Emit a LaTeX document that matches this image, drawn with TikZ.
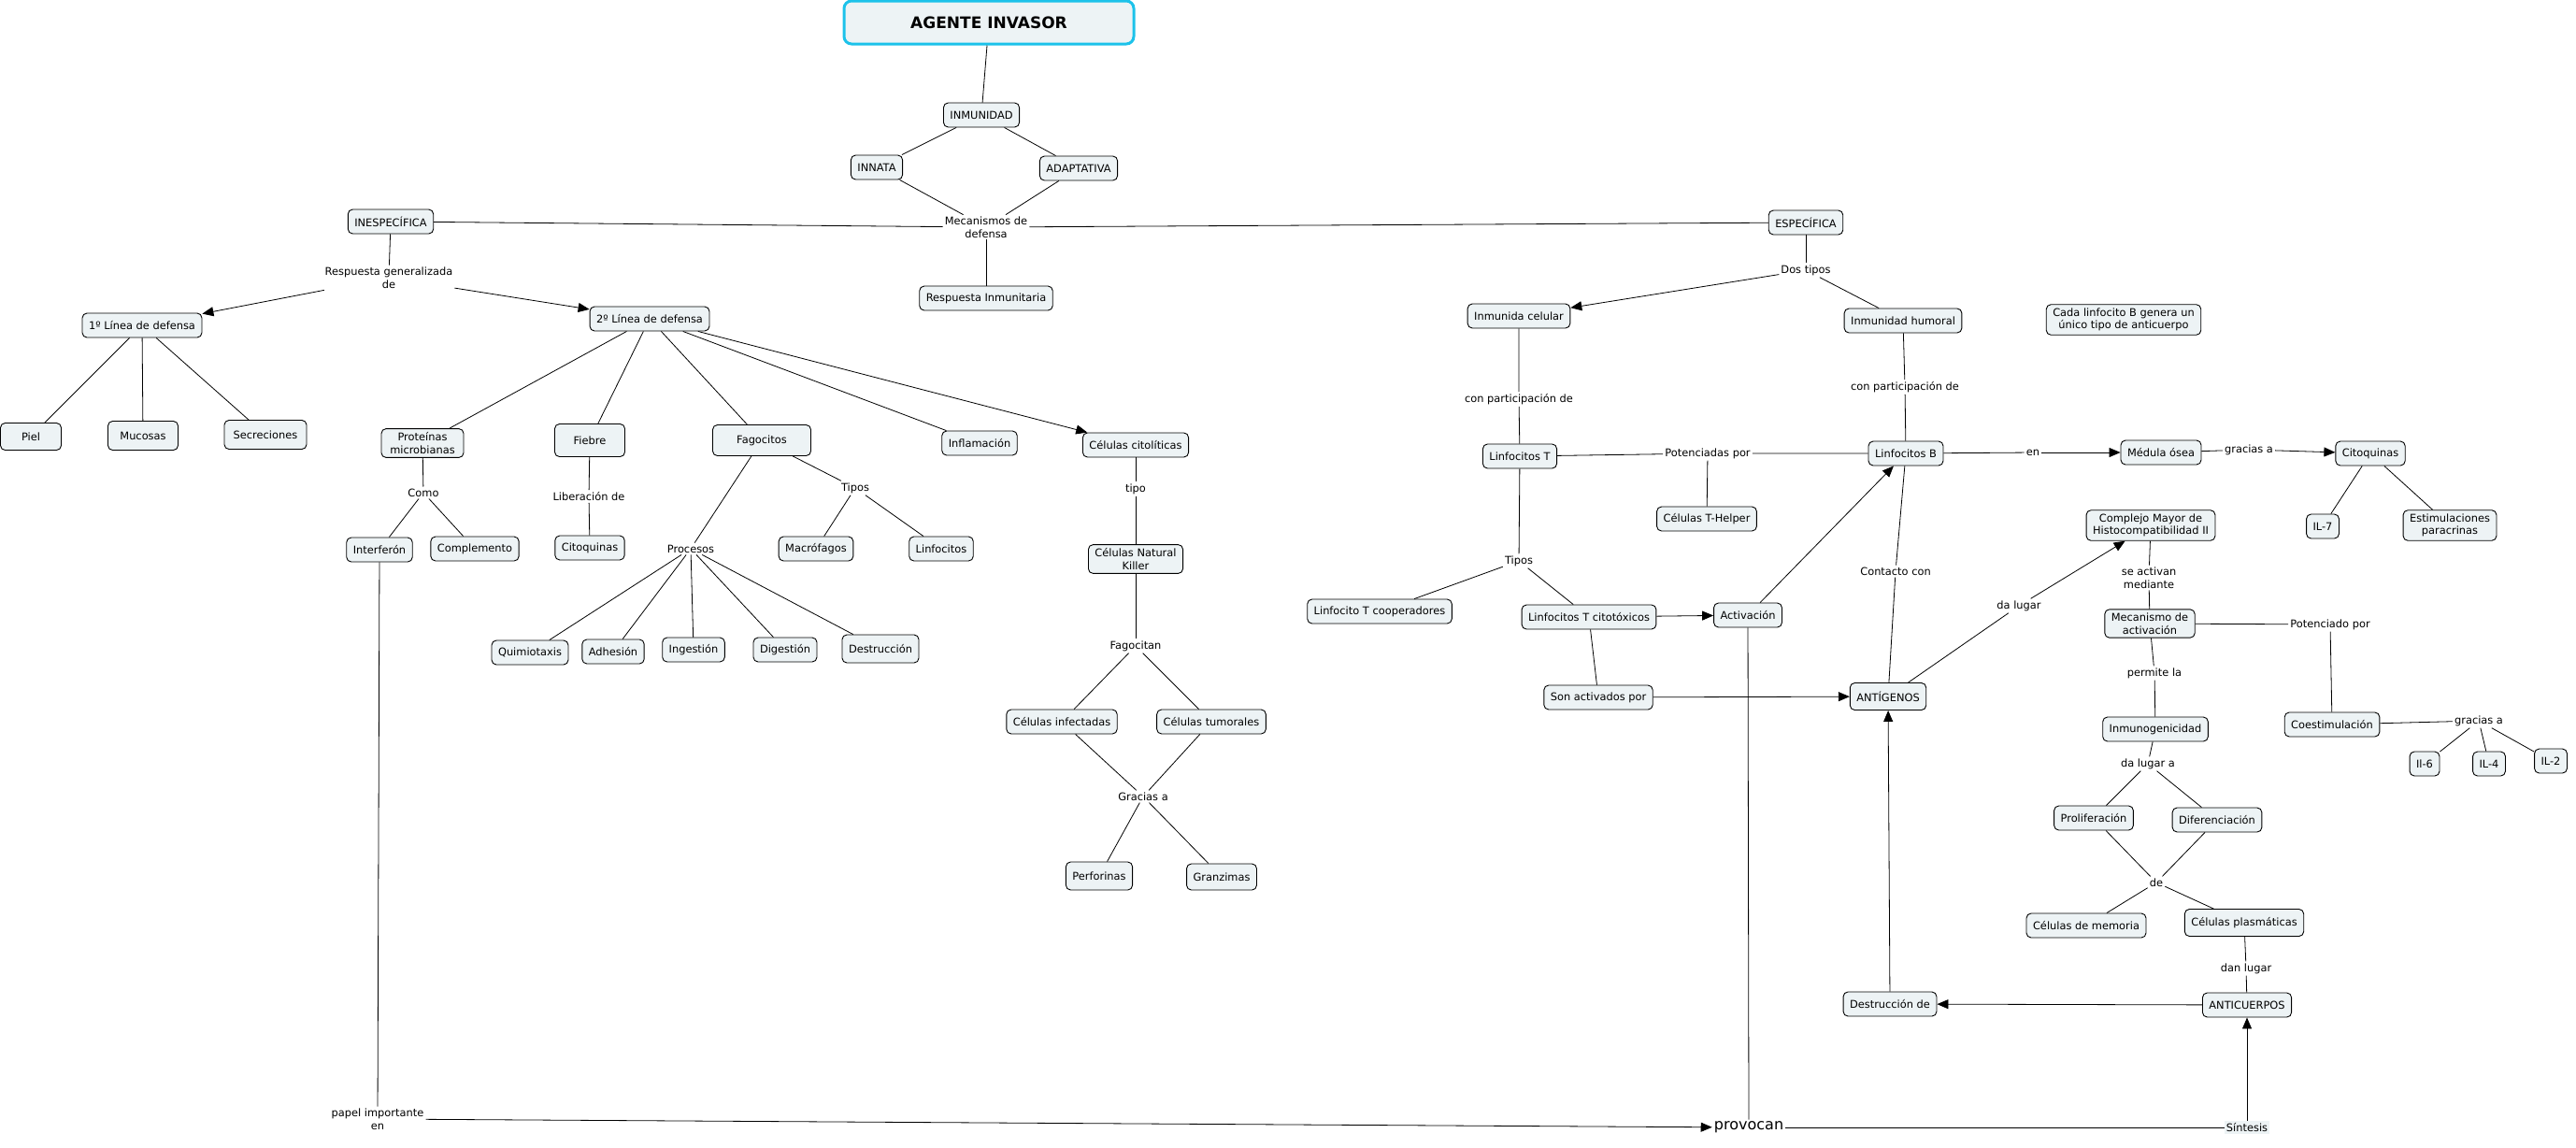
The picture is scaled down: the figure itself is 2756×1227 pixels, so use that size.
\documentclass[tikz,border=0pt]{standalone}
\usepackage{fontspec}
\setmainfont{DejaVu Sans}
\usepackage{tikz}
\usetikzlibrary{arrows.meta, positioning}
\definecolor{cajafondo}{HTML}{EDF3F5}
\definecolor{cajatitulo}{HTML}{1CC2EA}

\begin{document}
\begin{tikzpicture}[x=1pt, y=-1pt,
	caja/.style={draw, rounded corners=5pt, fill=cajafondo, line width=0.9pt, inner xsep=7pt, inner ysep=4pt, minimum height=26pt, align=center, font=\fontsize{11.4}{13.5}\selectfont},
	enlace/.style={inner sep=2pt, align=center, font=\fontsize{11.4}{13.5}\selectfont},
	linea/.style={line width=0.8pt},
	flecha/.style={line width=0.8pt, -{Triangle[length=12pt,width=10pt]}}]
					\useasboundingbox (0,0) rectangle (2756,1227);
					
					% Centro
					\node[caja, draw=cajatitulo, line width=3pt, rounded corners=8pt, minimum width=310pt, minimum height=46pt, font=\fontsize{17}{20}\selectfont\bfseries] (agente) at (1058,24) {AGENTE INVASOR};
					\node[caja] (inmunidad) at (1050,123) {INMUNIDAD};
					\node[caja] (innata) at (938,179) {INNATA};
					\node[caja] (adaptativa) at (1154,180) {ADAPTATIVA};
					\node[enlace] (mecanismos) at (1055,243) {Mecanismos de\\defensa};
					\node[caja] (respinm) at (1055,319) {Respuesta Inmunitaria};
					\node[caja] (inespecifica) at (418,237) {INESPECÍFICA};
					\node[caja] (especifica) at (1932,238) {ESPECÍFICA};
					
					% Inespecifica
					\node[enlace] (respgen) at (416,297) {Respuesta generalizada\\de};
					\node[caja] (linea1) at (152,348) {1º Línea de defensa};
					\node[caja] (linea2) at (695,341) {2º Línea de defensa};
					\node[caja, minimum width=65pt, minimum height=29pt] (piel) at (33,467) {Piel};
					\node[caja, minimum width=75pt, minimum height=31pt] (mucosas) at (153,466) {Mucosas};
					\node[caja, minimum width=88pt, minimum height=31pt] (secreciones) at (284,465) {Secreciones};
					\node[caja, minimum width=88pt] (proteinas) at (452,474) {Proteínas\\microbianas};
					\node[enlace] (como) at (453,527) {Como};
					\node[caja] (interferon) at (406,588) {Interferón};
					\node[caja] (complemento) at (508,587) {Complemento};
					\node[caja, minimum width=75pt, minimum height=35pt] (fiebre) at (631,471) {Fiebre};
					\node[enlace] (liberacion) at (630,531) {Liberación de};
					\node[caja] (citoquinasA) at (631,586) {Citoquinas};
					\node[caja, minimum width=105pt, minimum height=33pt] (fagocitos) at (815,471) {Fagocitos};
					\node[enlace] (procesos) at (739,587) {Procesos};
					\node[enlace] (tiposA) at (915,522) {Tipos};
					\node[caja] (macrofagos) at (873,587) {Macrófagos};
					\node[caja] (linfocitos) at (1007,587) {Linfocitos};
					\node[caja] (quimiotaxis) at (567,698) {Quimiotaxis};
					\node[caja] (adhesion) at (656,697) {Adhesión};
					\node[caja] (ingestion) at (742,695) {Ingestión};
					\node[caja] (digestion) at (840,695) {Digestión};
					\node[caja, minimum height=30pt] (destruccion) at (942,694) {Destrucción};
					\node[caja] (inflamacion) at (1048,474) {Inflamación};
					\node[caja] (citoliticas) at (1215,476) {Células citolíticas};
					\node[enlace] (tipo) at (1215,523) {tipo};
					\node[caja] (natural) at (1215,598) {Células Natural\\Killer};
					\node[enlace] (fagocitan) at (1215,691) {Fagocitan};
					\node[caja] (infectadas) at (1136,772) {Células infectadas};
					\node[caja] (tumorales) at (1296,772) {Células tumorales};
					\node[enlace] (graciasA) at (1223,852) {Gracias a};
					\node[caja, minimum height=30pt] (perforinas) at (1176,937) {Perforinas};
					\node[caja, minimum height=28pt] (granzimas) at (1307,938) {Granzimas};
					\node[enlace] (papel) at (404,1197) {papel importante\\en};
					
					% Especifica
					\node[enlace] (dostipos) at (1932,289) {Dos tipos};
					\node[caja] (celular) at (1625,338) {Inmunida celular};
					\node[caja] (humoral) at (2036,343) {Inmunidad humoral};
					\node[caja] (cada) at (2272,342) {Cada linfocito B genera un\\único tipo de anticuerpo};
					\node[enlace] (conpartT) at (1625,427) {con participación de};
					\node[enlace] (conpartB) at (2038,414) {con participación de};
					\node[caja] (linfT) at (1626,488) {Linfocitos T};
					\node[enlace] (potenciadas) at (1827,485) {Potenciadas por};
					\node[caja] (linfB) at (2039,485) {Linfocitos B};
					\node[enlace] (en) at (2175,484) {en};
					\node[caja] (medula) at (2312,484) {Médula ósea};
					\node[enlace] (graciasB) at (2406,481) {gracias a};
					\node[caja] (citoquinasB) at (2536,485) {Citoquinas};
					\node[caja] (il7) at (2485,563) {IL-7};
					\node[caja] (estimulaciones) at (2621,562) {Estimulaciones\\paracrinas};
					\node[caja] (thelper) at (1826,555) {Células T-Helper};
					\node[caja] (complejo) at (2301,562) {Complejo Mayor de\\Histocompatibilidad II};
					\node[enlace] (activan) at (2299,618) {se activan\\mediante};
					\node[caja] (mecanismo) at (2300,667) {Mecanismo de\\activación};
					\node[enlace] (potenciado) at (2493,668) {Potenciado por};
					\node[enlace] (permite) at (2305,720) {permite la};
					\node[caja] (coestimulacion) at (2495,775) {Coestimulación};
					\node[enlace] (graciasC) at (2652,771) {gracias a};
					\node[caja] (il6) at (2594,817) {Il-6};
					\node[caja] (il4) at (2663,817) {IL-4};
					\node[caja] (il2) at (2729,814) {IL-2};
					\node[caja] (inmunogenicidad) at (2306,780) {Inmunogenicidad};
					\node[enlace] (dalugarA) at (2298,817) {da lugar a};
					\node[caja] (proliferacion) at (2240,875) {Proliferación};
					\node[caja] (diferenciacion) at (2372,877) {Diferenciación};
					\node[enlace] (de) at (2307,944) {de};
					\node[caja] (memoria) at (2232,990) {Células de memoria};
					\node[caja, minimum height=29pt] (plasmaticas) at (2401,987) {Células plasmáticas};
					\node[enlace] (danlugar) at (2403,1036) {dan lugar};
					\node[caja] (anticuerpos) at (2404,1075) {ANTICUERPOS};
					\node[caja] (destruccionde) at (2022,1074) {Destrucción de};
					\node[caja, minimum height=29pt] (antigenos) at (2020,745) {ANTÍGENOS};
					\node[enlace] (contacto) at (2028,611) {Contacto con};
					\node[enlace] (dalugar) at (2160,648) {da lugar};
					\node[enlace] (tiposB) at (1625,600) {Tipos};
					\node[caja] (cooperadores) at (1476,654) {Linfocito T cooperadores};
					\node[caja] (citotoxicos) at (1700,660) {Linfocitos T citotóxicos};
					\node[caja] (activacion) at (1870,658) {Activación};
					\node[caja] (sonactivados) at (1710,746) {Son activados por};
					\node[enlace, font=\fontsize{16}{19}\selectfont] (provocan) at (1871,1206) {provocan};
					\node[enlace, fill=cajafondo] (sintesis) at (2404,1206) {Síntesis};
					
					% Conectores centro
					\draw[linea] (agente) -- (inmunidad);
					\draw[linea] (inmunidad) -- (innata);
					\draw[linea] (inmunidad) -- (adaptativa);
					\draw[linea] (innata) -- (mecanismos);
					\draw[linea] (adaptativa) -- (mecanismos);
					\draw[linea] (inespecifica) -- (mecanismos);
					\draw[linea] (mecanismos) -- (especifica);
					\draw[linea] (mecanismos) -- (respinm);
					
					% Conectores inespecifica
					\draw[linea] (inespecifica) -- (respgen);
					\draw[flecha] (respgen) -- (linea1);
					\draw[flecha] (respgen) -- (linea2);
					\foreach \n in {piel, mucosas, secreciones}
						\draw[linea] (linea1) -- (\n);
					\foreach \n in {proteinas, fiebre, fagocitos, inflamacion}
						\draw[linea] (linea2) -- (\n);
					\draw[flecha] (linea2) -- (citoliticas);
					\draw[linea] (proteinas) -- (como);
					\draw[linea] (como) -- (interferon);
					\draw[linea] (como) -- (complemento);
					\draw[linea] (fiebre) -- (liberacion) -- (citoquinasA);
					\draw[linea] (fagocitos) -- (procesos);
					\foreach \n in {quimiotaxis, adhesion, ingestion, digestion, destruccion}
						\draw[linea] (procesos) -- (\n);
					\draw[linea] (fagocitos) -- (tiposA);
					\draw[linea] (tiposA) -- (macrofagos);
					\draw[linea] (tiposA) -- (linfocitos);
					\draw[linea] (citoliticas) -- (tipo) -- (natural) -- (fagocitan);
					\draw[linea] (fagocitan) -- (infectadas);
					\draw[linea] (fagocitan) -- (tumorales);
					\draw[linea] (infectadas) -- (graciasA);
					\draw[linea] (tumorales) -- (graciasA);
					\draw[linea] (graciasA) -- (perforinas);
					\draw[linea] (graciasA) -- (granzimas);
					\draw[linea] (interferon) -- (papel);
					\draw[flecha] (papel) -- (provocan);
					
					% Conectores especifica
					\draw[linea] (especifica) -- (dostipos);
					\draw[flecha] (dostipos) -- (celular);
					\draw[linea] (dostipos) -- (humoral);
					\draw[linea] (celular) -- (conpartT) -- (linfT);
					\draw[linea] (humoral) -- (conpartB) -- (linfB);
					\draw[linea] (linfT) -- (potenciadas) -- (linfB);
					\draw[linea] (potenciadas) -- (thelper);
					\draw[linea] (linfB) -- (en);
					\draw[flecha] (en) -- (medula);
					\draw[linea] (medula) -- (graciasB);
					\draw[flecha] (graciasB) -- (citoquinasB);
					\draw[linea] (citoquinasB) -- (il7);
					\draw[linea] (citoquinasB) -- (estimulaciones);
					\draw[linea] (linfT) -- (tiposB);
					\draw[linea] (tiposB) -- (cooperadores);
					\draw[linea] (tiposB) -- (citotoxicos);
					\draw[flecha] (citotoxicos) -- (activacion);
					\draw[flecha] (activacion) -- (linfB);
					\draw[linea] (citotoxicos) -- (sonactivados);
					\draw[flecha] (sonactivados) -- (antigenos);
					\draw[linea] (linfB) -- (contacto) -- (antigenos);
					\draw[linea] (antigenos) -- (dalugar);
					\draw[flecha] (dalugar) -- (complejo);
					\draw[linea] (complejo) -- (activan) -- (mecanismo);
					\draw[linea] (mecanismo) -- (potenciado) -- (coestimulacion);
					\draw[linea] (coestimulacion) -- (graciasC);
					\foreach \n in {il6, il4, il2}
						\draw[linea] (graciasC) -- (\n);
					\draw[linea] (mecanismo) -- (permite) -- (inmunogenicidad);
					\draw[linea] (inmunogenicidad) -- (dalugarA);
					\draw[linea] (dalugarA) -- (proliferacion);
					\draw[linea] (dalugarA) -- (diferenciacion);
					\draw[linea] (proliferacion) -- (de);
					\draw[linea] (diferenciacion) -- (de);
					\draw[linea] (de) -- (memoria);
					\draw[linea] (de) -- (plasmaticas);
					\draw[linea] (plasmaticas) -- (danlugar) -- (anticuerpos);
					\draw[flecha] (anticuerpos) -- (destruccionde);
					\draw[flecha] (destruccionde) -- (antigenos);
					\draw[linea] (activacion) -- (provocan);
					\draw[linea] (provocan) -- (sintesis);
					\draw[flecha] (sintesis) -- (anticuerpos);
				\end{tikzpicture}
\end{document}
